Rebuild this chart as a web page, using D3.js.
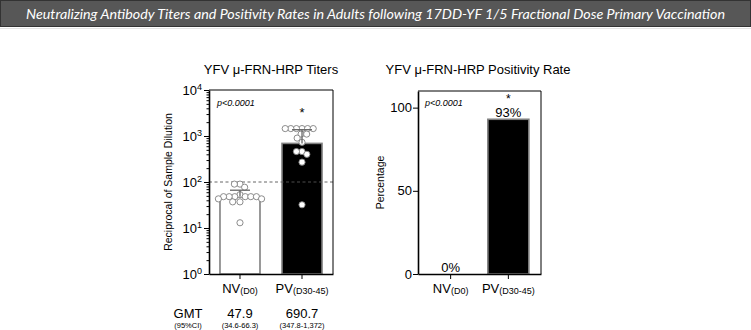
<!DOCTYPE html>
<html>
<head>
<meta charset="utf-8">
<script src="https://cdn.jsdelivr.net/npm/d3@7"></script>
<style>
  body { margin: 0; background: #fff; }
  svg { display: block; font-family: "Liberation Sans", Arial, sans-serif; }
  .axis path, .axis line { stroke: #000; }
</style>
</head>
<body>
<div id="chart"></div>
<script>
// data
const groups = ["NV", "PV"];
const groupSubs = ["(D0)", "(D30-45)"];
const nvTiters = [90, 90, 77, 53, 48, 48, 48, 48, 48, 48, 43, 43, 37, 37, 13];
const pvTiters = [1450, 1450, 1450, 1450, 1450, 1450, 1100, 1100, 900, 730, 460, 460, 400, 270, 32];
const gmt = [47.9, 690.7];
const ciLow = [34.6, 347.8];
const ciHigh = [66.3, 1372];
const gmtLabels = ["47.9", "690.7"];
const ciLabels = ["(34.6-66.3)", "(347.8-1,372)"];
const positivity = [0, 93];
const positivityLabels = ["0%", "93%"];
const threshold = 100;
const logTicks = [1, 10, 100, 1000, 10000];
const pctTicks = [0, 50, 100];

const width = 751, height = 330;
const svg = d3.select("#chart").append("svg")
  .attr("width", width).attr("height", height);

// header band
svg.append("rect")
  .attr("x", 0.5).attr("y", 0.5).attr("width", width - 1).attr("height", 26)
  .attr("fill", "#575757").attr("stroke", "#333");
svg.append("line")
  .attr("x1", 0).attr("x2", width).attr("y1", 28.5).attr("y2", 28.5)
  .attr("stroke", "#e4e4e4");
svg.append("text")
  .attr("x", width / 2).attr("y", 18.5)
  .attr("text-anchor", "middle")
  .attr("fill", "#fff")
  .attr("font-family", "Lato, 'Open Sans', sans-serif")
  .attr("font-style", "italic")
  .attr("font-size", 14)
  .attr("textLength", 699).attr("lengthAdjust", "spacingAndGlyphs")
  .text("Neutralizing Antibody Titers and Positivity Rates in Adults following 17DD-YF 1/5 Fractional Dose Primary Vaccination");

/* ---------- left panel: titers ---------- */
const L = {left: 209, right: 333, top: 90, bottom: 274};

const xL = d3.scaleBand().domain(groups)
  .range([L.left, L.right]).paddingInner(0.355).paddingOuter(0.177);
const yL = d3.scaleLog().domain([1, 10000]).range([L.bottom, L.top]);

const panelL = svg.append("g");

panelL.append("text")
  .attr("x", (L.left + L.right) / 2).attr("y", 74)
  .attr("text-anchor", "middle").attr("font-size", 13)
  .text("YFV μ-FRN-HRP Titers");

// bars (geometric mean)
panelL.selectAll("rect.bar").data(gmt).join("rect")
  .attr("class", "bar")
  .attr("x", (d, i) => xL(groups[i]))
  .attr("width", xL.bandwidth())
  .attr("y", d => yL(d))
  .attr("height", d => yL(1) - yL(d))
  .attr("fill", (d, i) => i === 0 ? "#fff" : "#000")
  .attr("stroke", "#808080").attr("stroke-width", 1.6);

// threshold line
panelL.append("line")
  .attr("x1", L.left).attr("x2", L.right + 2)
  .attr("y1", yL(threshold)).attr("y2", yL(threshold))
  .attr("stroke", "#555").attr("stroke-width", 0.9)
  .attr("stroke-dasharray", "3,2.5");

// beeswarm layout: each point takes the free offset closest to the group centre
const r = 3.1, minDist = 5.6;
function swarm(values, cx) {
  const placed = [];
  values.slice().sort((a, b) => b - a).forEach(v => {
    const cy = yL(v);
    const cands = [0];
    placed.forEach(p => {
      const dy = Math.abs(p.y - cy);
      if (dy < minDist) {
        const dx = Math.sqrt(minDist * minDist - dy * dy);
        cands.push(p.off + dx, p.off - dx);
      }
    });
    const ok = cands.filter(o => placed.every(p =>
      (p.off - o) ** 2 + (p.y - cy) ** 2 >= minDist * minDist - 0.01));
    ok.sort((a, b) => Math.abs(a) - Math.abs(b) || a - b);
    placed.push({off: ok[0], y: cy, v: v});
  });
  return placed.map(p => ({x: cx + p.off, y: p.y, v: p.v}));
}
const pts = swarm(nvTiters, xL("NV") + xL.bandwidth() / 2)
  .concat(swarm(pvTiters, xL("PV") + xL.bandwidth() / 2));

panelL.selectAll("circle.pt").data(pts).join("circle")
  .attr("class", "pt")
  .attr("cx", d => d.x).attr("cy", d => d.y).attr("r", r)
  .attr("fill", "#fff").attr("stroke", "#808080").attr("stroke-width", 0.9);

// error bars (upper half, 95% CI)
groups.forEach((g, i) => {
  const cx = xL(g) + xL.bandwidth() / 2;
  panelL.append("line")
    .attr("x1", cx).attr("x2", cx)
    .attr("y1", yL(gmt[i])).attr("y2", yL(ciHigh[i]))
    .attr("stroke", "#666").attr("stroke-width", 1.3);
  panelL.append("line")
    .attr("x1", cx - 10).attr("x2", cx + 10)
    .attr("y1", yL(ciHigh[i])).attr("y2", yL(ciHigh[i]))
    .attr("stroke", "#666").attr("stroke-width", 1.3);
});

// frame
panelL.append("path")
  .attr("d", `M${L.left},${L.top}H${L.right}V${L.bottom}`)
  .attr("fill", "none").attr("stroke", "#000").attr("stroke-width", 1);

// y axis: major + minor log ticks
const minor = [];
logTicks.slice(0, -1).forEach(t => { for (let m = 2; m < 10; m++) minor.push(t * m); });
panelL.append("g").attr("class", "axis")
  .attr("transform", `translate(${L.left},0)`)
  .call(d3.axisLeft(yL).tickValues(minor).tickSize(2.5).tickFormat(""))
  .call(g => g.select(".domain").remove());
const yAxL = panelL.append("g").attr("class", "axis")
  .attr("transform", `translate(${L.left},0)`)
  .call(d3.axisLeft(yL).tickValues(logTicks).tickSize(5).tickSizeOuter(0).tickFormat(""));
yAxL.select(".domain").attr("stroke-width", 1.6);
yAxL.selectAll(".tick").append("text")
  .attr("x", -7).attr("dy", "0.32em")
  .attr("text-anchor", "end").attr("fill", "#000").attr("font-size", 13)
  .each(function(d) {
    const t = d3.select(this);
    t.append("tspan").text("10");
    t.append("tspan").attr("dy", "-0.5em").attr("font-size", 9).text(Math.round(Math.log10(d)));
  });

// x axis
const xAxL = panelL.append("g").attr("class", "axis")
  .attr("transform", `translate(0,${L.bottom})`)
  .call(d3.axisBottom(xL).tickSize(5).tickSizeOuter(0).tickFormat(""));
xAxL.select(".domain").attr("stroke-width", 1.3);
xAxL.selectAll(".tick").append("text")
  .attr("y", 19).attr("text-anchor", "middle").attr("fill", "#000").attr("font-size", 13)
  .each(function(d, i) {
    const t = d3.select(this);
    t.append("tspan").text(d);
    t.append("tspan").attr("font-size", 9).attr("dy", "0.1em").text(groupSubs[i]);
  });

panelL.append("text")
  .attr("transform", `translate(172,${(L.top + L.bottom) / 2}) rotate(-90)`)
  .attr("text-anchor", "middle").attr("font-size", 10.5)
  .text("Reciprocal of Sample Dilution");

panelL.append("text")
  .attr("x", L.left + 8).attr("y", 106)
  .attr("font-size", 9).attr("font-style", "italic")
  .text("p<0.0001");
panelL.append("text")
  .attr("x", xL("PV") + xL.bandwidth() / 2).attr("y", 117)
  .attr("text-anchor", "middle").attr("font-size", 13)
  .text("*");

// GMT row
panelL.append("text").attr("x", 188).attr("y", 318)
  .attr("text-anchor", "middle").attr("font-size", 13).text("GMT");
panelL.append("text").attr("x", 188).attr("y", 328)
  .attr("text-anchor", "middle").attr("font-size", 7.5).text("(95%CI)");
groups.forEach((g, i) => {
  const cx = xL(g) + xL.bandwidth() / 2;
  panelL.append("text").attr("x", cx).attr("y", 318)
    .attr("text-anchor", "middle").attr("font-size", 13).text(gmtLabels[i]);
  panelL.append("text").attr("x", cx).attr("y", 328)
    .attr("text-anchor", "middle").attr("font-size", 7.5).text(ciLabels[i]);
});

/* ---------- right panel: positivity ---------- */
const R = {left: 418, right: 541, top: 91, bottom: 274};

const xR = d3.scaleBand().domain(groups)
  .range([R.left, R.right]).paddingInner(0.29).paddingOuter(0.21);
const yR = d3.scaleLinear().domain([0, 110]).range([R.bottom, R.top]);

const panelR = svg.append("g");

panelR.append("text")
  .attr("x", 478).attr("y", 74)
  .attr("text-anchor", "middle").attr("font-size", 13)
  .text("YFV μ-FRN-HRP Positivity Rate");

panelR.selectAll("rect.bar").data(positivity).join("rect")
  .attr("class", "bar")
  .attr("x", (d, i) => xR(groups[i]))
  .attr("width", xR.bandwidth())
  .attr("y", d => yR(d))
  .attr("height", d => yR(0) - yR(d))
  .attr("fill", "#000")
  .attr("stroke", d => d > 0 ? "#808080" : "none").attr("stroke-width", 1.6);

panelR.selectAll("text.val").data(positivity).join("text")
  .attr("class", "val")
  .attr("x", (d, i) => xR(groups[i]) + xR.bandwidth() / 2)
  .attr("y", d => yR(d) - 2)
  .attr("text-anchor", "middle").attr("font-size", 13)
  .text((d, i) => positivityLabels[i]);

panelR.append("path")
  .attr("d", `M${R.left},${R.top}H${R.right}V${R.bottom}`)
  .attr("fill", "none").attr("stroke", "#000").attr("stroke-width", 1);

const yAxR = panelR.append("g").attr("class", "axis")
  .attr("transform", `translate(${R.left},0)`)
  .call(d3.axisLeft(yR).tickValues(pctTicks).tickSize(5).tickSizeOuter(0));
yAxR.select(".domain").attr("stroke-width", 1.6);
yAxR.selectAll(".tick text").attr("font-size", 13).attr("fill", "#000")
  .attr("font-family", "Liberation Sans, Arial, sans-serif").attr("x", -6);

const xAxR = panelR.append("g").attr("class", "axis")
  .attr("transform", `translate(0,${R.bottom})`)
  .call(d3.axisBottom(xR).tickSize(5).tickSizeOuter(0).tickFormat(""));
xAxR.select(".domain").attr("stroke-width", 1.3);
xAxR.selectAll(".tick").append("text")
  .attr("y", 19).attr("text-anchor", "middle").attr("fill", "#000").attr("font-size", 13)
  .each(function(d, i) {
    const t = d3.select(this);
    t.append("tspan").text(d);
    t.append("tspan").attr("font-size", 9).attr("dy", "0.1em").text(groupSubs[i]);
  });

panelR.append("text")
  .attr("transform", `translate(384,${(R.top + R.bottom) / 2}) rotate(-90)`)
  .attr("text-anchor", "middle").attr("font-size", 10.5)
  .text("Percentage");

panelR.append("text")
  .attr("x", R.left + 7).attr("y", 106)
  .attr("font-size", 9).attr("font-style", "italic")
  .text("p<0.0001");
panelR.append("text")
  .attr("x", xR("PV") + xR.bandwidth() / 2).attr("y", 103)
  .attr("text-anchor", "middle").attr("font-size", 12)
  .text("*");
</script>
</body>
</html>
